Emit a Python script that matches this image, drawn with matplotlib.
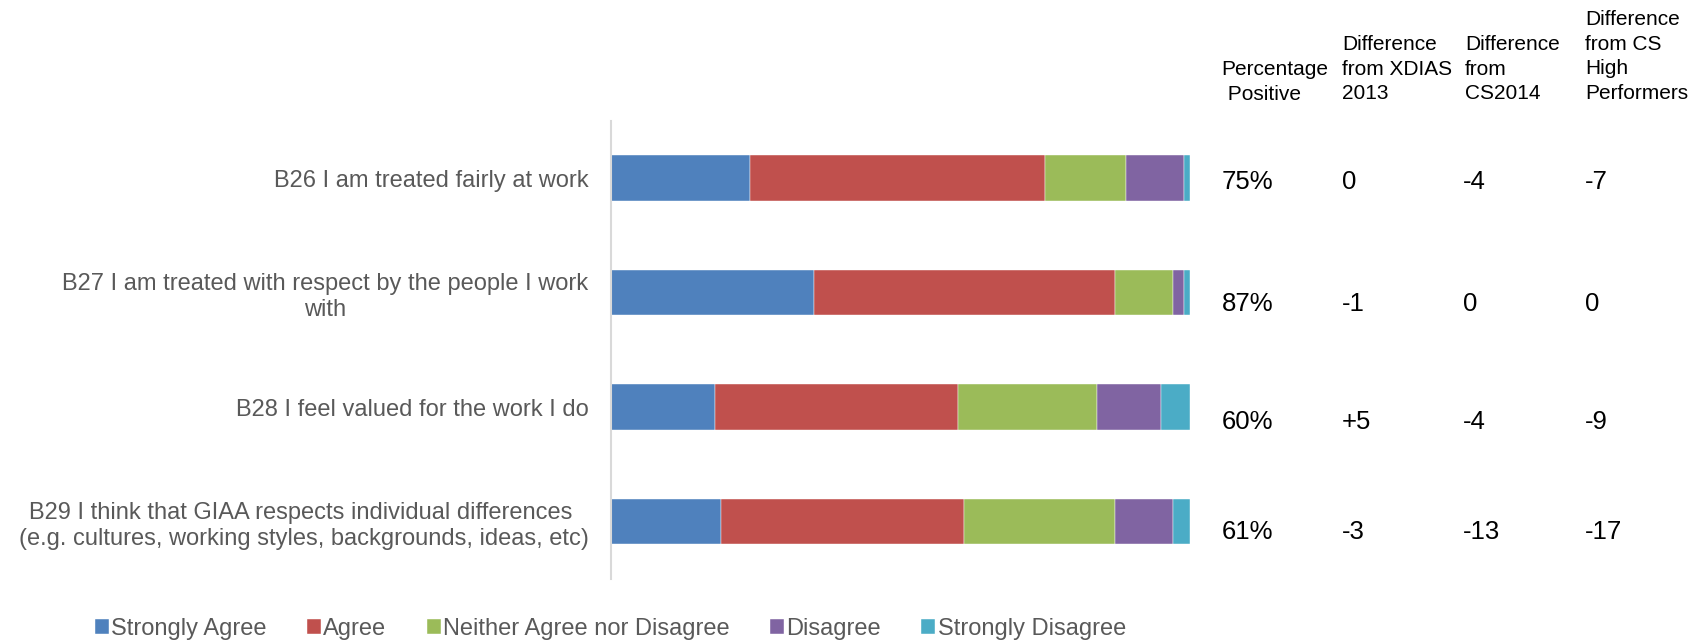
import matplotlib
matplotlib.use('Agg')
import matplotlib.pyplot as plt
import numpy as np

plt.rcParams['font.family'] = ['Liberation Sans', 'DejaVu Sans']

questions = ['B26 I am treated fairly at work',
             'B27 I am treated with respect by the people I work\nwith',
             'B28 I feel valued for the work I do',
             'B29 I think that GIAA respects individual differences \n(e.g. cultures, working styles, backgrounds, ideas, etc)']
responses = ['Strongly Agree', 'Agree', 'Neither Agree nor Disagree', 'Disagree', 'Strongly Disagree']

strongly_agree = [24, 35, 18, 19]
agree = [51, 52, 42, 42]
neither = [14, 10, 24, 26]
disagree = [10, 2, 11, 10]
strongly_disagree = [1, 1, 5, 3]

pct_positive = ['75%', '87%', '60%', '61%']
diff_xdias2013 = ['0', '-1', '+5', '-3']
diff_cs2014 = ['-4', '0', '-4', '-13']
diff_cs_high = ['-7', '0', '-9', '-17']

headers = ['Percentage\n Positive',
           'Difference\nfrom XDIAS\n2013',
           'Difference\nfrom\nCS2014',
           'Difference\nfrom CS\nHigh\nPerformers']

colors = ['#4F81BD', '#C0504D', '#9BBB59', '#8064A2', '#4BACC6']

W, H = 1707, 643
fig = plt.figure(figsize=(W / 100, H / 100), dpi=100)
ax = fig.add_axes([610.8 / W, 1 - 578.8 / H, (1190 - 610.8) / W, (578.8 - 120.8) / H])

y = np.arange(len(questions))
left = np.zeros(len(questions))
series = [strongly_agree, agree, neither, disagree, strongly_disagree]
handles = []
for vals, col, name in zip(series, colors, responses):
    b = ax.barh(y, vals, left=left, height=0.4, color=col, label=name,
                edgecolor='white', linewidth=0.3)
    handles.append(b)
    left += np.array(vals)

ax.set_xlim(0, 100)
ax.set_ylim(len(questions) - 0.5, -0.5)
ax.set_yticks(y)
ax.set_yticklabels(questions, fontsize=17, color='#595959', multialignment='center')
for lbl in ax.get_yticklabels():
    lbl.set_linespacing(1.22)
ax.tick_params(axis='y', length=0, pad=16)
ax.set_xticks([])
for s in ['top', 'right', 'bottom']:
    ax.spines[s].set_visible(False)
ax.spines['left'].set_color('#D9D9D9')
ax.spines['left'].set_linewidth(1.5)

# table columns to the right of the bars
col_x = [1221.7, 1342, 1463, 1585]
head_x = [1221.7, 1342, 1465, 1585]
head_y = [81.7, 69.1, 69.1, 56.6]
row_y = [181.8, 303.7, 422.4, 532.4]
columns = [pct_positive, diff_xdias2013, diff_cs2014, diff_cs_high]
for j, col in enumerate(columns):
    for i, txt in enumerate(col):
        fig.text(col_x[j] / W, 1 - row_y[i] / H, txt, fontsize=18.5,
                 color='black', ha='left', va='center')
    fig.text(head_x[j] / W, 1 - head_y[j] / H, headers[j], fontsize=15,
             color='black', ha='left', va='center', linespacing=1.38)

fig.legend(handles=handles, labels=responses, loc='center left',
           bbox_to_anchor=(94.7 / W, 1 - 629 / H), ncol=5, frameon=False,
           fontsize=17, labelcolor='#595959', handlelength=0.6,
           handleheight=0.6, handletextpad=0.1, columnspacing=1.7,
           borderpad=0, borderaxespad=0)

fig.savefig('out.png', dpi=100)
